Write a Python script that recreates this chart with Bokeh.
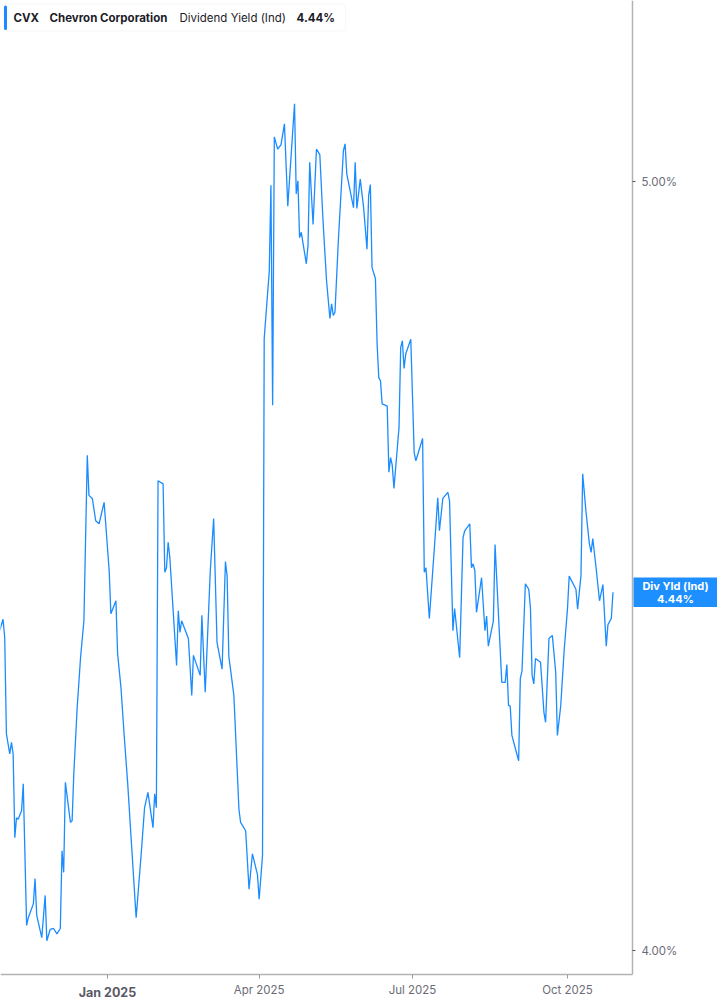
import pandas as pd
from bokeh.plotting import figure
from bokeh.models import (FixedTicker, PrintfTickFormatter, CustomJSTickFormatter,
                          Label, BoxAnnotation, Range1d)
from bokeh.embed import file_html
from bokeh.resources import INLINE

# ---------------- data ----------------
dates = [
    "2024-10-29", "2024-10-31", "2024-11-01", "2024-11-02", "2024-11-04", "2024-11-05", "2024-11-06", "2024-11-07", "2024-11-08", "2024-11-09",
    "2024-11-11", "2024-11-12", "2024-11-14", "2024-11-15", "2024-11-18", "2024-11-19", "2024-11-20", "2024-11-23", "2024-11-25", "2024-11-26",
    "2024-11-28", "2024-11-30", "2024-12-02", "2024-12-04", "2024-12-05", "2024-12-06", "2024-12-07", "2024-12-10", "2024-12-11", "2024-12-12",
    "2024-12-14", "2024-12-16", "2024-12-18", "2024-12-20", "2024-12-21", "2024-12-23", "2024-12-25", "2024-12-27", "2024-12-30",
    "2025-01-02", "2025-01-03", "2025-01-06", "2025-01-07", "2025-01-09", "2025-01-11", "2025-01-13", "2025-01-15", "2025-01-18", "2025-01-21",
    "2025-01-23", "2025-01-25", "2025-01-28", "2025-01-29", "2025-01-30", "2025-01-31",
    "2025-02-03", "2025-02-04", "2025-02-05", "2025-02-06", "2025-02-07", "2025-02-11", "2025-02-12", "2025-02-13", "2025-02-14", "2025-02-18",
    "2025-02-20", "2025-02-21", "2025-02-25", "2025-02-26", "2025-02-28",
    "2025-03-03", "2025-03-05", "2025-03-07", "2025-03-10", "2025-03-12", "2025-03-13", "2025-03-14", "2025-03-17", "2025-03-20", "2025-03-21",
    "2025-03-24", "2025-03-26", "2025-03-28", "2025-03-31",
    "2025-04-01", "2025-04-03", "2025-04-04", "2025-04-07", "2025-04-08", "2025-04-09", "2025-04-10", "2025-04-12", "2025-04-14", "2025-04-16",
    "2025-04-18", "2025-04-22", "2025-04-23", "2025-04-24", "2025-04-25", "2025-04-26", "2025-04-29", "2025-04-30",
    "2025-05-01", "2025-05-03", "2025-05-05", "2025-05-07", "2025-05-09", "2025-05-11", "2025-05-13", "2025-05-14", "2025-05-15", "2025-05-16",
    "2025-05-18", "2025-05-20", "2025-05-21", "2025-05-22", "2025-05-23", "2025-05-27", "2025-05-28", "2025-05-29", "2025-05-31",
    "2025-06-02", "2025-06-04", "2025-06-05", "2025-06-06", "2025-06-07", "2025-06-09", "2025-06-10", "2025-06-11", "2025-06-12", "2025-06-13",
    "2025-06-16", "2025-06-17", "2025-06-18", "2025-06-19", "2025-06-20", "2025-06-23", "2025-06-24", "2025-06-25", "2025-06-26", "2025-06-27",
    "2025-06-30",
    "2025-07-02", "2025-07-03", "2025-07-07", "2025-07-08", "2025-07-09", "2025-07-11", "2025-07-14", "2025-07-16", "2025-07-17", "2025-07-19",
    "2025-07-22", "2025-07-23", "2025-07-25", "2025-07-26", "2025-07-29", "2025-07-31",
    "2025-08-01", "2025-08-04", "2025-08-05", "2025-08-06", "2025-08-07", "2025-08-08", "2025-08-11", "2025-08-13", "2025-08-14", "2025-08-15",
    "2025-08-18", "2025-08-19", "2025-08-23", "2025-08-25", "2025-08-26", "2025-08-27", "2025-08-28", "2025-08-29",
    "2025-09-02", "2025-09-03", "2025-09-04", "2025-09-06", "2025-09-08", "2025-09-09", "2025-09-10", "2025-09-11", "2025-09-12", "2025-09-15",
    "2025-09-17", "2025-09-18", "2025-09-20", "2025-09-22", "2025-09-24", "2025-09-25", "2025-09-27", "2025-09-29",
    "2025-10-01", "2025-10-02", "2025-10-06", "2025-10-07", "2025-10-09", "2025-10-10", "2025-10-12", "2025-10-14", "2025-10-15", "2025-10-16",
    "2025-10-18", "2025-10-20", "2025-10-22", "2025-10-24", "2025-10-25", "2025-10-27", "2025-10-28",
]

values = [
    4.416, 4.431, 4.407, 4.282, 4.256, 4.271, 4.256, 4.147, 4.173, 4.171,
    4.182, 4.217, 4.033, 4.043, 4.061, 4.094, 4.046, 4.017, 4.072, 4.013,
    4.028, 4.029, 4.022, 4.029, 4.130, 4.102, 4.219, 4.167, 4.169, 4.230,
    4.316, 4.381, 4.429, 4.644, 4.592, 4.588, 4.559, 4.555, 4.583,
    4.494, 4.438, 4.455, 4.386, 4.342, 4.277, 4.217, 4.147, 4.043, 4.126,
    4.186, 4.206, 4.160, 4.204, 4.186, 4.611,
    4.607, 4.492, 4.498, 4.531, 4.511, 4.371, 4.442, 4.414, 4.429, 4.406,
    4.332, 4.384, 4.358, 4.436, 4.336,
    4.494, 4.562, 4.401, 4.366, 4.506, 4.487, 4.383, 4.332, 4.184, 4.167,
    4.156, 4.080, 4.126, 4.099,
    4.067, 4.124, 4.796, 4.883, 4.995, 4.709, 5.058, 5.042, 5.048, 5.075,
    4.968, 5.101, 4.984, 5.001, 4.927, 4.934, 4.893, 4.917,
    5.025, 4.944, 5.042, 5.035, 4.945, 4.871, 4.822, 4.841, 4.826, 4.830,
    4.923, 5.001, 5.040, 5.049, 5.010, 4.966, 5.025, 4.965, 5.003,
    4.966, 4.912, 4.982, 4.996, 4.888, 4.874, 4.789, 4.745, 4.741, 4.711,
    4.708, 4.622, 4.641, 4.631, 4.601, 4.680, 4.784, 4.793, 4.757, 4.776,
    4.795,
    4.648, 4.637, 4.666, 4.492, 4.498, 4.432, 4.524, 4.589, 4.546, 4.588,
    4.596, 4.585, 4.416, 4.445, 4.381, 4.537,
    4.546, 4.555, 4.498, 4.503, 4.494, 4.440, 4.485, 4.416, 4.435, 4.396,
    4.429, 4.528, 4.349, 4.349, 4.372, 4.319, 4.318, 4.280,
    4.247, 4.354, 4.364, 4.477, 4.470, 4.446, 4.358, 4.347, 4.380, 4.375,
    4.310, 4.297, 4.406, 4.410, 4.362, 4.280, 4.319, 4.390,
    4.445, 4.487, 4.470, 4.444, 4.488, 4.620, 4.570, 4.529, 4.518, 4.536,
    4.497, 4.455, 4.476, 4.396, 4.424, 4.432, 4.466,
]

x_tick_dates = ["2025-01-01", "2025-04-01", "2025-07-01", "2025-10-01"]
x_tick_labels = ["Jan 2025", "Apr 2025", "Jul 2025", "Oct 2025"]
x_tick_bold = [True, False, False, False]
y_ticks = [4.0, 5.0]

symbol = "CVX"
company = "Chevron Corporation"
metric = "Dividend Yield (Ind)"
current_text = "4.44%"
badge_title = "Div Yld (Ind)"

# ---------------- layout helpers ----------------
LINE_BLUE = "#1a8cff"
BADGE_BLUE = "#1e8fff"
AXIS_GRAY = "#b3b3b3"
LABEL_GRAY = "#6c6c78"
PX_PER_DAY = 1.685
PX_PER_UNIT = 769.3
W, H = 717, 1005
AXIS_X_PX, AXIS_Y_PX = 632, 974


def ms(ts):
    return pd.Timestamp(ts).value / 1e6


X0 = pd.Timestamp("2025-01-01") - pd.Timedelta(days=107 / PX_PER_DAY)


def xpx(px):
    return ms(X0 + pd.Timedelta(days=px / PX_PER_DAY))


def ypx(py):
    return 5.0 - (py - 181) / PX_PER_UNIT


# ---------------- figure ----------------
p = figure(width=W, height=H, x_axis_type="datetime", y_axis_location="right",
           output_backend="svg", toolbar_location=None,
           x_range=Range1d(xpx(0), xpx(W)), y_range=Range1d(ypx(H), ypx(0)),
           min_border=0, min_border_left=0, min_border_right=0,
           min_border_top=0, min_border_bottom=0)
p.outline_line_color = None
p.grid.visible = False
p.background_fill_color = "white"
p.border_fill_color = "white"

p.line(x=pd.to_datetime(dates), y=values, line_color=LINE_BLUE, line_width=1.3)

# x axis (drawn at the bottom of the plotting area)
tick_ms = [ms(d) for d in x_tick_dates]
xa = p.xaxis[0]
xa.fixed_location = ypx(AXIS_Y_PX)
xa.bounds = (xpx(0), xpx(AXIS_X_PX))
xa.ticker = FixedTicker(ticks=tick_ms)
xa.formatter = CustomJSTickFormatter(
    args=dict(tvals=tick_ms, tlabels=x_tick_labels, tbold=x_tick_bold),
    code="""
    for (let i = 0; i < tvals.length; i++) {
        if (Math.abs(tvals[i] - tick) < 8.64e7) { return tbold[i] ? "" : tlabels[i]; }
    }
    return "";
    """)
xa.axis_line_color = AXIS_GRAY
xa.axis_line_width = 1.5
xa.major_tick_line_color = "#9a9a9a"
xa.major_tick_out = 4
xa.major_tick_in = 0
xa.minor_tick_line_color = None
xa.major_label_standoff = 4
xa.major_label_text_font = "Inter"
xa.major_label_text_font_size = "11.5px"
xa.major_label_text_color = LABEL_GRAY

for d, lab, b in zip(x_tick_dates, x_tick_labels, x_tick_bold):
    if b:
        p.add_layout(Label(x=ms(d), y=ypx(991.5), text=lab, text_align="center",
                           text_baseline="middle", text_font="Inter",
                           text_font_style="bold", text_font_size="12.5px",
                           text_color="#5a5a66"))

# y axis (drawn at the right edge of the plotting area)
ya = p.yaxis[0]
ya.fixed_location = xpx(AXIS_X_PX)
ya.bounds = (ypx(AXIS_Y_PX), ypx(0))
ya.ticker = FixedTicker(ticks=y_ticks)
ya.formatter = PrintfTickFormatter(format="%.2f%%")
ya.axis_line_color = AXIS_GRAY
ya.axis_line_width = 1.5
ya.major_tick_line_color = "#555555"
ya.major_tick_out = 3
ya.major_tick_in = 0
ya.minor_tick_line_color = None
ya.major_label_standoff = 6
ya.major_label_text_font = "Inter"
ya.major_label_text_font_size = "11.5px"
ya.major_label_text_color = LABEL_GRAY

# legend box (top-left)
p.add_layout(BoxAnnotation(left=xpx(3.5), right=xpx(345), top=ypx(3.5), bottom=ypx(30.5),
                           fill_color="white", fill_alpha=1, line_color="#e4e4e4",
                           line_width=1, border_radius=4, level="overlay"))
p.add_layout(BoxAnnotation(left=xpx(3.5), right=xpx(6.5), top=ypx(5), bottom=ypx(29.5),
                           fill_color=LINE_BLUE, fill_alpha=1, line_color=None,
                           border_radius=2, level="overlay"))
for txt, xx, style in [(symbol, 13, "bold"), (company, 49, "bold"),
                       (metric, 179, "normal"), (current_text, 296, "bold")]:
    p.add_layout(Label(x=xpx(xx), y=ypx(17), text=txt, text_align="left",
                       text_baseline="middle", text_font="Inter", text_font_style=style,
                       text_font_size="11.5px", text_color="#1c1c28", level="overlay"))

# current-value badge on the right axis
last_v = values[-1]
half = 14.7 / PX_PER_UNIT
p.add_layout(BoxAnnotation(left=xpx(633), right=xpx(W + 5), top=last_v + half, bottom=last_v - half,
                           fill_color=BADGE_BLUE, fill_alpha=1, line_color=None, level="overlay"))
p.add_layout(Label(x=xpx(675), y=last_v + 6 / PX_PER_UNIT, text=badge_title, text_align="center",
                   text_baseline="middle", text_font="Inter", text_font_style="bold",
                   text_font_size="11px", text_color="white", level="overlay"))
p.add_layout(Label(x=xpx(675), y=last_v - 6.5 / PX_PER_UNIT, text=current_text, text_align="center",
                   text_baseline="middle", text_font="Inter", text_font_style="bold",
                   text_font_size="11px", text_color="white", level="overlay"))

open("out.html", "w").write(file_html(p, INLINE))
